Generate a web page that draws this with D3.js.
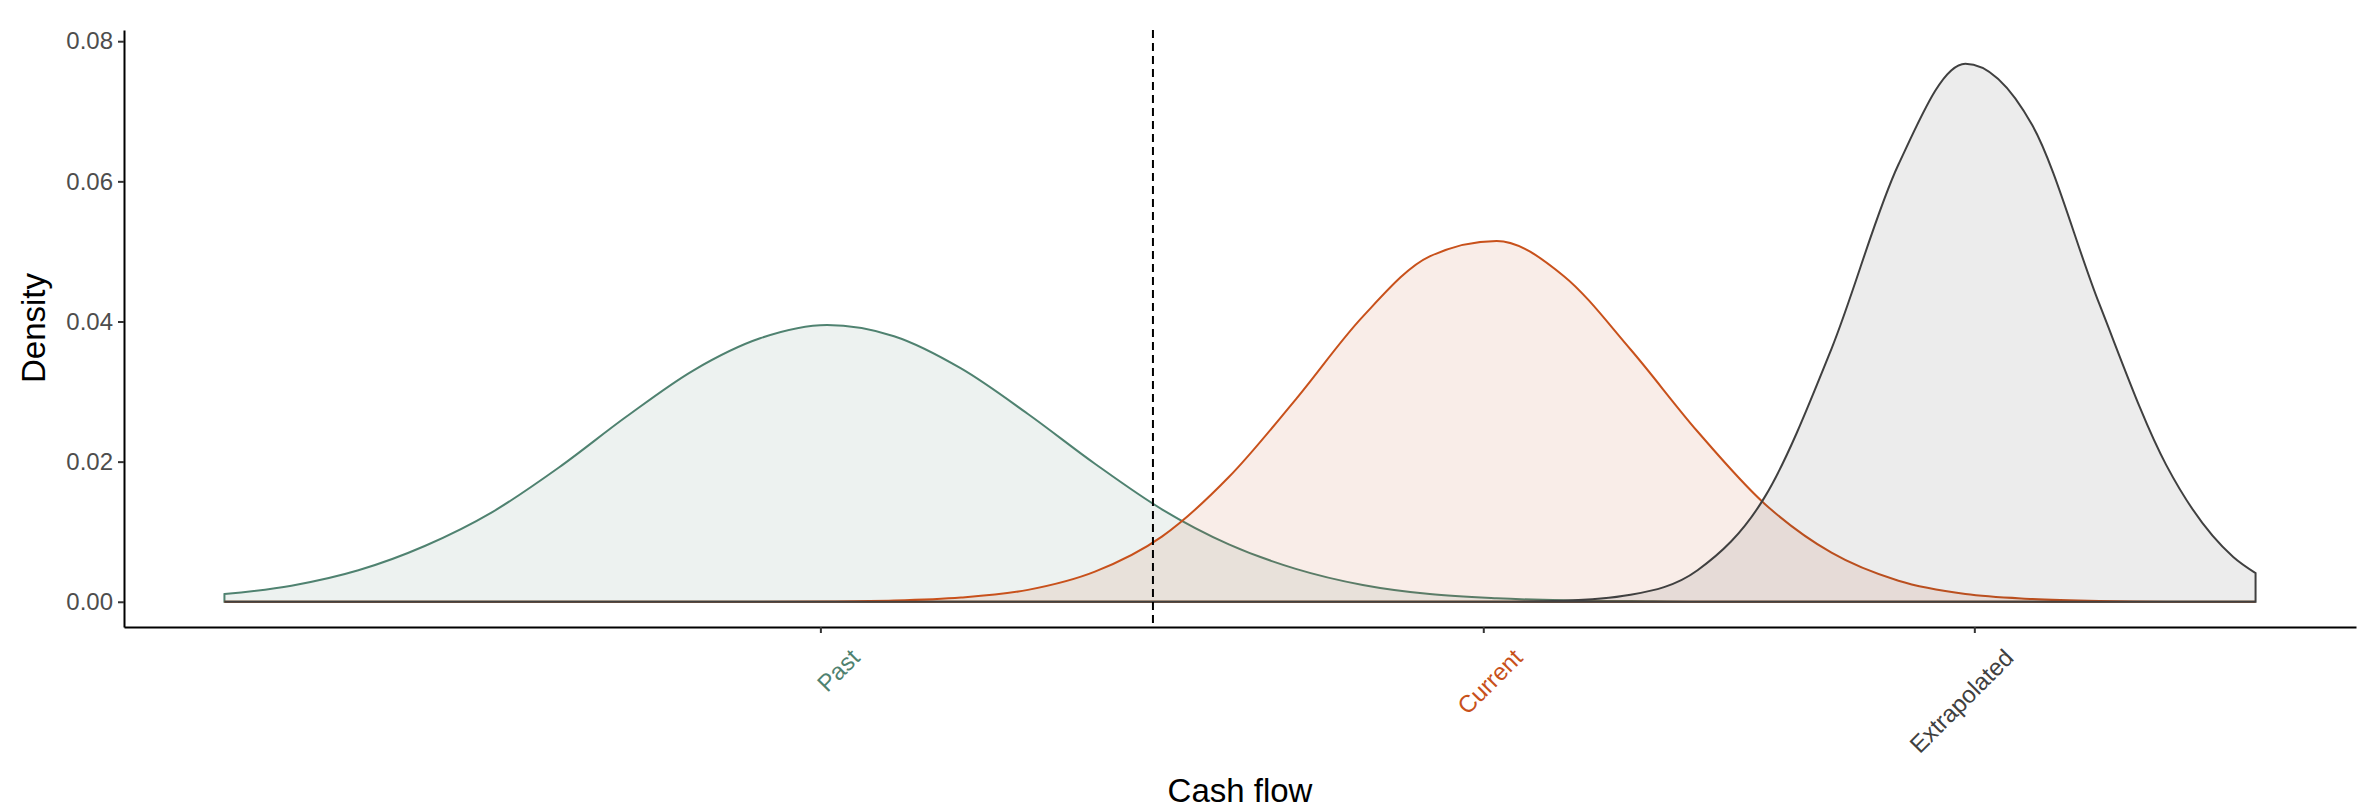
<!DOCTYPE html>
<html>
<head>
<meta charset="utf-8">
<script src="https://cdn.jsdelivr.net/npm/d3@7"></script>
<style>
  body { margin: 0; background: #fff; }
  svg text { font-family: "Liberation Sans", Arial, sans-serif; }
</style>
</head>
<body>
<svg id="chart" width="2370" height="812"></svg>
<script>
// cash flow grid (arbitrary units) and density values
var xs = [4.5, 7.5, 10.5, 13.5, 16.5, 19.5, 22.5, 25.5, 28.5, 31.5, 34.5, 37.5, 40.5, 43.5, 46.5,
  49.5, 52.5, 55.5, 58.5, 61.5, 64.5, 67.5, 70.5, 73.5, 76.5, 79.5, 82.5, 85.5, 88.5, 91.5, 94.5, 95.5];
var past = [0.0011, 0.0023, 0.0045, 0.0080, 0.0128, 0.0192, 0.0264, 0.0330, 0.0376, 0.0395, 0.0379, 0.0333, 0.0268, 0.0197, 0.0132,
  0.0082, 0.0047, 0.0024, 0.0011, 0.0005, 0.0002, 0.0001, 0, 0, 0, 0, 0, 0, 0, 0, 0, 0];
var current = [0, 0, 0, 0, 0, 0, 0, 0, 0, 0.00004, 0.00017, 0.0006, 0.0017, 0.0043, 0.0093,
  0.0178, 0.0289, 0.0407, 0.0493, 0.0515, 0.0465, 0.0360, 0.0243, 0.0140, 0.0070, 0.0030, 0.0011, 0.0004, 0.0001, 0, 0, 0];
var extrapolated = [0, 0, 0, 0, 0, 0, 0, 0, 0, 0, 0, 0, 0, 0, 0,
  0, 0, 0, 0, 0, 0.00015, 0.0010, 0.0045, 0.0149, 0.0361, 0.0624, 0.0768, 0.0680, 0.0425, 0.0195, 0.0064, 0.0041];

var groups = ["Past", "Current", "Extrapolated"];
var groupColors = ["#4f8270", "#c8511b", "#404040"];
var tickPos = [31.2, 60.9, 82.9];   // x-axis labels sit at these cash flow values
var cutoff = 46.1;                   // dashed vertical line
var yTicks = [0, 0.02, 0.04, 0.06, 0.08];

var svg = d3.select("#chart");
var x = d3.scaleLinear().domain([0, 100]).range([124, 2356]);
var y = d3.scaleLinear().domain([-0.0036, 0.0816]).range([627, 30]);

var series = [past, current, extrapolated];
var area = d3.area()
  .x(function(d) { return x(d[0]); })
  .y0(y(0))
  .y1(function(d) { return y(d[1]); })
  .curve(d3.curveMonotoneX);

series.forEach(function(vals, i) {
  var pts = xs.map(function(v, j) { return [v, vals[j]]; });
  svg.append("path")
    .attr("d", area(pts) )
    .attr("fill", groupColors[i])
    .attr("fill-opacity", 0.1)
    .attr("stroke", groupColors[i])
    .attr("stroke-width", 2);
});

// dashed cut line
svg.append("line")
  .attr("x1", x(cutoff)).attr("x2", x(cutoff))
  .attr("y1", y.range()[1]).attr("y2", y.range()[0])
  .attr("stroke", "#000").attr("stroke-width", 2).attr("stroke-dasharray", "8,5");

// y axis
var yAxis = svg.append("g").attr("transform", "translate(124,0)")
  .call(d3.axisLeft(y).tickValues(yTicks).tickFormat(d3.format(".2f")).tickSize(6).tickSizeOuter(0));
yAxis.select(".domain").attr("stroke", "#000").attr("stroke-width", 2);
yAxis.selectAll(".tick line").attr("stroke", "#333").attr("stroke-width", 2);
yAxis.selectAll(".tick text").attr("font-size", 24).attr("fill", "#4d4d4d").attr("dx", -2)
  .style("font-family", "Liberation Sans, Arial, sans-serif");

// x axis
var xAxis = svg.append("g").attr("transform", "translate(0,627)")
  .call(d3.axisBottom(x).tickValues(tickPos).tickFormat(function(d, i) { return groups[i]; }).tickSize(6).tickSizeOuter(0));
xAxis.select(".domain").attr("stroke", "#000").attr("stroke-width", 2);
xAxis.selectAll(".tick line").attr("stroke", "#333").attr("stroke-width", 2);
xAxis.selectAll(".tick text")
  .attr("font-size", 24)
  .attr("fill", function(d, i) { return groupColors[i]; })
  .attr("text-anchor", "end")
  .attr("dy", "0.7em")
  .attr("transform", "translate(22,14) rotate(-45)")
  .style("font-family", "Liberation Sans, Arial, sans-serif");

// titles
svg.append("text").attr("x", 1240).attr("y", 802).attr("text-anchor", "middle")
  .attr("font-size", 33).attr("fill", "#000").text("Cash flow");
svg.append("text").attr("transform", "translate(45,328) rotate(-90)").attr("text-anchor", "middle")
  .attr("font-size", 33).attr("fill", "#000").text("Density");
</script>
</body>
</html>
